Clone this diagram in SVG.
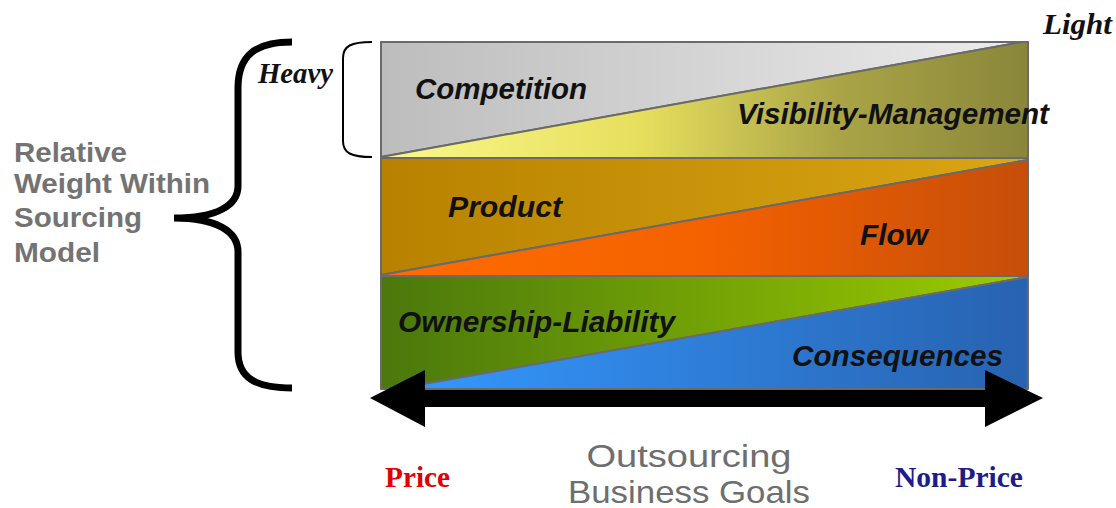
<svg xmlns="http://www.w3.org/2000/svg" width="1116" height="508" viewBox="0 0 1116 508">
  <defs>
    <linearGradient id="gGrey" x1="0" y1="0" x2="1" y2="0">
      <stop offset="0" stop-color="#bdbdbd"/>
      <stop offset="1" stop-color="#ececec"/>
    </linearGradient>
    <linearGradient id="gYellow" x1="0" y1="0" x2="1" y2="0">
      <stop offset="0" stop-color="#fbf88c"/>
      <stop offset="0.4" stop-color="#e6df5e"/>
      <stop offset="0.7" stop-color="#aba547"/>
      <stop offset="1" stop-color="#8a863a"/>
    </linearGradient>
    <linearGradient id="gGold" x1="0" y1="0" x2="1" y2="0">
      <stop offset="0" stop-color="#b88200"/>
      <stop offset="1" stop-color="#daa614"/>
    </linearGradient>
    <linearGradient id="gOrange" x1="0" y1="0" x2="1" y2="0">
      <stop offset="0" stop-color="#ff6c00"/>
      <stop offset="0.5" stop-color="#f46200"/>
      <stop offset="1" stop-color="#c64e0a"/>
    </linearGradient>
    <linearGradient id="gGreen" x1="0" y1="0" x2="1" y2="0">
      <stop offset="0" stop-color="#4a780c"/>
      <stop offset="1" stop-color="#9ccc00"/>
    </linearGradient>
    <linearGradient id="gBlue" x1="0" y1="0" x2="1" y2="0">
      <stop offset="0" stop-color="#3499ff"/>
      <stop offset="1" stop-color="#2862b0"/>
    </linearGradient>
  </defs>
  <style>
    .edge { stroke: #6a6a6a; stroke-width: 2; stroke-linejoin: round; }
    .lbl { font-family: "Liberation Sans", Arial, sans-serif; font-weight: bold; font-style: italic; font-size: 29px; fill: #111111; }
    .side { font-family: "Liberation Sans", Arial, sans-serif; font-weight: bold; font-size: 28px; fill: #737373; }
    .goal { font-family: "Liberation Sans", Arial, sans-serif; font-size: 32px; fill: #6e6e6e; }
    .serif { font-family: "Liberation Serif", "Times New Roman", serif; font-weight: bold; font-size: 29px; }
    .brace { fill: none; stroke: #000000; stroke-linecap: butt; }
  </style>
  <rect width="1116" height="508" fill="#ffffff"/>

  <!-- band 1 -->
  <g id="competition">
    <polygon class="edge" fill="url(#gGrey)" points="381,42 1022,42 381,157"/>
    <text class="lbl" x="415" y="99" textLength="172" lengthAdjust="spacingAndGlyphs">Competition</text>
  </g>
  <g id="visibility-management">
    <polygon class="edge" fill="url(#gYellow)" points="381,157 1022,42 1028,42 1028,158 381,158"/>
    <text class="lbl" x="737" y="124" textLength="312" lengthAdjust="spacingAndGlyphs">Visibility-Management</text>
  </g>

  <!-- band 2 -->
  <g id="product">
    <polygon class="edge" fill="url(#gGold)" points="381,158 1028,158 1028,160 381,275"/>
    <text class="lbl" x="448" y="217" textLength="114" lengthAdjust="spacingAndGlyphs">Product</text>
  </g>
  <g id="flow">
    <polygon class="edge" fill="url(#gOrange)" points="381,275 1028,160 1028,276 381,276"/>
    <text class="lbl" x="860" y="245" textLength="68" lengthAdjust="spacingAndGlyphs">Flow</text>
  </g>

  <!-- band 3 -->
  <g id="ownership-liability">
    <polygon class="edge" fill="url(#gGreen)" points="381,276 1028,276 1028,277 395,389 381,389"/>
    <text class="lbl" x="398" y="332" textLength="277" lengthAdjust="spacingAndGlyphs">Ownership-Liability</text>
  </g>
  <g id="consequences">
    <polygon class="edge" fill="url(#gBlue)" points="395,389 1028,277 1028,389"/>
    <text class="lbl" x="792" y="366" textLength="211" lengthAdjust="spacingAndGlyphs">Consequences</text>
  </g>

  <!-- weight scale markers -->
  <g id="heavy">
    <path class="brace" stroke-width="2" d="M372,42 C351,42 343,46 343,58 L343,141 C343,153 351,157 372,157"/>
    <text class="serif" font-style="italic" x="258" y="83" textLength="75" lengthAdjust="spacingAndGlyphs" fill="#111111">Heavy</text>
  </g>
  <g id="light">
    <text class="serif" font-style="italic" x="1043" y="34" textLength="69" lengthAdjust="spacingAndGlyphs" fill="#111111">Light</text>
  </g>

  <!-- vertical axis -->
  <g id="relative-weight">
    <path class="brace" stroke-width="7" d="M292,42 C256,42 238,55 238,88 L238,186 C238,206 216,218 174,218 C216,218 238,231 238,252 L238,352 C238,378 256,388 292,388"/>
    <text class="side" x="14" y="162" textLength="113" lengthAdjust="spacingAndGlyphs">Relative</text>
    <text class="side" x="14" y="193" textLength="196" lengthAdjust="spacingAndGlyphs">Weight Within</text>
    <text class="side" x="14" y="227" textLength="128" lengthAdjust="spacingAndGlyphs">Sourcing</text>
    <text class="side" x="14" y="262" textLength="86" lengthAdjust="spacingAndGlyphs">Model</text>
  </g>

  <!-- horizontal axis -->
  <g id="connectors">
    <polygon fill="#000000" points="370,398 425,370 425,390 985,390 985,370 1043,398 985,427 985,407 425,407 425,427"/>
  </g>
  <g id="price">
    <text class="serif" x="385" y="487" textLength="65" lengthAdjust="spacingAndGlyphs" fill="#e00000">Price</text>
  </g>
  <g id="non-price">
    <text class="serif" x="895" y="487" textLength="128" lengthAdjust="spacingAndGlyphs" fill="#1c1c8a">Non-Price</text>
  </g>
  <g id="outsourcing-goals">
    <text class="goal" x="689" y="467" text-anchor="middle" textLength="205" lengthAdjust="spacingAndGlyphs">Outsourcing</text>
    <text class="goal" x="689" y="503" text-anchor="middle" textLength="242" lengthAdjust="spacingAndGlyphs">Business Goals</text>
  </g>
</svg>
